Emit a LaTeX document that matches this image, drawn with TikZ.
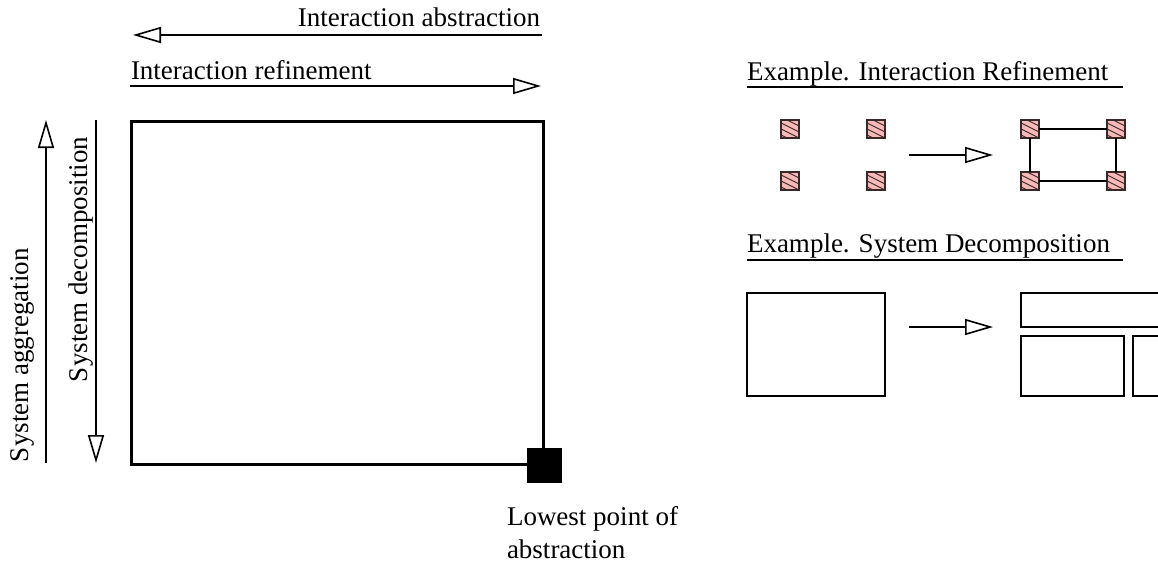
\documentclass[tikz,border=0pt]{standalone}
\usepackage{fontspec}
\setmainfont{Liberation Serif}
\usetikzlibrary{arrows.meta}
\definecolor{cellpink}{RGB}{247,184,184}
\definecolor{hatchink}{RGB}{55,40,40}

\begin{document}
\begin{tikzpicture}[x=1pt,y=-1pt,
  lbl/.style={font=\fontsize{27}{33}\selectfont, inner sep=0pt, outer sep=0pt},
  rule/.style={line width=1.6pt},
  openhead/.style={rule,-{Triangle[open,length=28pt,width=16pt,line width=1.6pt]}},
  cell/.style={draw=hatchink, fill=cellpink, line width=1.3pt, minimum size=18pt,
    inner sep=0pt, outer sep=0pt,
    path picture={\foreach \k in {-12,-6,0,6,12}
      \draw[hatchink, line width=0.9pt] ([yshift=\k pt]path picture bounding box.west) -- ++(18pt,-9pt);}},
  block/.style={draw, line width=2.4pt, inner sep=0pt, outer sep=0pt, anchor=north west},
]
\useasboundingbox (0,0) rectangle (1158,562);
\clip (0,0) rectangle (1158,562);

% horizontal arrows: abstraction / refinement
\node[lbl, anchor=base east] (abstxt) at (540,27) {Interaction abstraction};
\coordinate (absR) at (542,35);
\coordinate (absL) at (133,35);
\draw[openhead] (absR) -- (absL);

\node[lbl, anchor=base west] (reftxt) at (131,79) {Interaction refinement};
\coordinate (refL) at (130,86);
\coordinate (refR) at (541,86);
\draw[openhead] (refL) -- (refR);

% vertical arrows: aggregation / decomposition
\node[lbl, rotate=90, anchor=base west] (aggtxt) at (28,462) {System aggregation};
\coordinate (aggB) at (46,463);
\coordinate (aggT) at (46,120);
\draw[openhead] (aggB) -- (aggT);

\node[lbl, rotate=90, anchor=base west] (dectxt) at (87,382) {System decomposition};
\coordinate (decT) at (96,120);
\coordinate (decB) at (96,463);
\draw[openhead] (decT) -- (decB);

% the design space and its lowest point
\node[draw, line width=2.8pt, minimum width=412pt, minimum height=343pt, inner sep=0pt,
  anchor=north west] (space) at (130,120) {};
\node[fill=black, minimum size=35pt, inner sep=0pt] (lowest) at (space.south east) {};
\node[lbl, anchor=base west] (lowtxtA) at (507,525) {Lowest point of};
\node[lbl, anchor=base west] (lowtxtB) at (507,558) {abstraction};

% example: interaction refinement
\node[lbl, anchor=base west] (ex1) at (747,80) {Example. Interaction Refinement};
\coordinate (ex1L) at (747,87);
\coordinate (ex1R) at (1123,87);
\draw[rule] (ex1L) -- (ex1R);

\node[cell] (a1) at (790,129) {};
\node[cell] (a2) at (876,129) {};
\node[cell] (a3) at (790,181) {};
\node[cell] (a4) at (876,181) {};

\coordinate (r1s) at (909,155);
\coordinate (r1e) at (993,155);
\draw[openhead] (r1s) -- (r1e);

\node[cell] (b1) at (1030,129) {};
\node[cell] (b2) at (1116,129) {};
\node[cell] (b3) at (1030,181) {};
\node[cell] (b4) at (1116,181) {};
\draw[rule] (b1) -- (b2);
\draw[rule] (b3) -- (b4);
\draw[rule] (b1) -- (b3);
\draw[rule] (b2) -- (b4);

% example: system decomposition
\node[lbl, anchor=base west] (ex2) at (747,252) {Example. System Decomposition};
\coordinate (ex2L) at (747,260);
\coordinate (ex2R) at (1123,260);
\draw[rule] (ex2L) -- (ex2R);

\node[block, minimum width=138pt, minimum height=103pt] (whole) at (747,293) {};

\coordinate (r2s) at (909,327);
\coordinate (r2e) at (993,327);
\draw[openhead] (r2s) -- (r2e);

\node[block, minimum width=160pt, minimum height=34pt] (partA) at (1021,293) {};
\node[block, minimum width=103pt, minimum height=60pt] (partB) at (1021,336) {};
\node[block, minimum width=40pt, minimum height=60pt] (partC) at (1133,336) {};
\end{tikzpicture}
\end{document}
